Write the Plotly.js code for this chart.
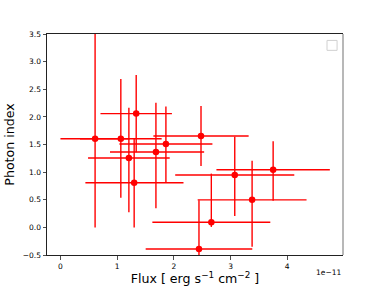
<!DOCTYPE html>
<html>
<head>
<meta charset="utf-8">
<script src="https://cdn.plot.ly/plotly-3.0.1.min.js"></script>
<style>
  body { margin: 0; background: #fff; }
  #chart { width: 381px; height: 286px; }
</style>
</head>
<body>
<div id="chart"></div>
<script>
// flux in units of 1e-11 erg s^-1 cm^-2
var flux       = [0.611, 1.065, 1.336, 1.207, 1.30, 1.684, 1.86, 2.479, 3.38, 3.751, 2.443, 2.661, 3.074];
var fluxErrHi  = [0.611, 0.72,  0.63,  0.72,  0.87, 0.85,  0.82, 0.84,  0.96, 1.0,   0.94,  1.04,  1.05];
var fluxErrLo  = [0.611, 0.72,  0.63,  0.72,  0.86, 0.81,  0.82, 0.84,  0.96, 1.0,   0.94,  1.04,  1.05];
var index      = [1.605, 1.605, 2.059, 1.255, 0.807, 1.364, 1.509, 1.654, 0.498, 1.043, -0.391, 0.093, 0.947];
var indexErrHi = [2.0,   1.08,  0.70,  0.91,  0.807, 0.89,  0.68,  0.545, 0.71,  0.515, 0.88,   0.88,  0.695];
var indexErrLo = [1.605, 1.07,  0.70,  0.98,  0.807, 1.02,  0.70,  0.545, 0.85,  0.56,  0.90,   0.085, 0.74];

var yTicks = [-0.5, 0.0, 0.5, 1.0, 1.5, 2.0, 2.5, 3.0, 3.5];
var xTicks = [0, 1, 2, 3, 4];

var trace = {
  x: flux,
  y: index,
  mode: 'markers',
  type: 'scatter',
  marker: {color: 'red', size: 6.5},
  cliponaxis: true,
  error_x: {type: 'data', array: fluxErrHi, arrayminus: fluxErrLo, symmetric: false,
            color: 'red', thickness: 1.4, width: 0},
  error_y: {type: 'data', array: indexErrHi, arrayminus: indexErrLo, symmetric: false,
            color: 'red', thickness: 1.4, width: 0},
  showlegend: false
};

var tickFont = {family: 'DejaVu Sans', size: 7.5, color: '#000'};
var titleFont = {family: 'DejaVu Sans', size: 12.6, color: '#000'};

var layout = {
  width: 381,
  height: 286,
  margin: {l: 47, r: 38, t: 34, b: 31},
  paper_bgcolor: '#fff',
  plot_bgcolor: '#fff',
  font: {family: 'DejaVu Sans', size: 7.5, color: '#000'},
  xaxis: {
    range: [-0.237, 4.983],
    tickvals: xTicks,
    ticktext: xTicks.map(String),
    showgrid: false, zeroline: false,
    showline: true, mirror: true, linecolor: '#222', linewidth: 1,
    ticks: 'outside', ticklen: 3.5, tickcolor: '#222', tickwidth: 0.8,
    tickfont: tickFont,
    title: {text: 'Flux [ erg s<sup>\u22121</sup> cm<sup>\u22122</sup> ]', font: titleFont, standoff: 5}
  },
  yaxis: {
    range: [-0.5, 3.5],
    tickvals: yTicks,
    ticktext: yTicks.map(function (v) { return v.toFixed(1).replace('-', '\u2212'); }),
    showgrid: false, zeroline: false,
    showline: true, mirror: false, linecolor: '#222', linewidth: 1,
    ticks: 'outside', ticklen: 3.5, tickcolor: '#222', tickwidth: 0.8,
    tickfont: tickFont,
    title: {text: 'Photon index', font: titleFont, standoff: 5}
  },
  shapes: [
    // right spine
    {type: 'line', xref: 'paper', yref: 'paper', x0: 1, x1: 1, y0: 0, y1: 1,
     line: {color: '#a0a0a0', width: 1.5}},
    // empty legend frame
    {type: 'rect', xref: 'paper', yref: 'paper', x0: 0.946, x1: 0.980, y0: 0.926, y1: 0.971,
     line: {color: '#d0d0d0', width: 1}, fillcolor: '#fff'}
  ],
  annotations: [
    {text: '1e\u221211', xref: 'paper', yref: 'paper', x: 1, y: 0, yshift: -11,
     xanchor: 'right', yanchor: 'top', showarrow: false,
     font: tickFont}
  ]
};

Plotly.newPlot('chart', [trace], layout, {displayModeBar: false, staticPlot: true});
</script>
</body>
</html>
